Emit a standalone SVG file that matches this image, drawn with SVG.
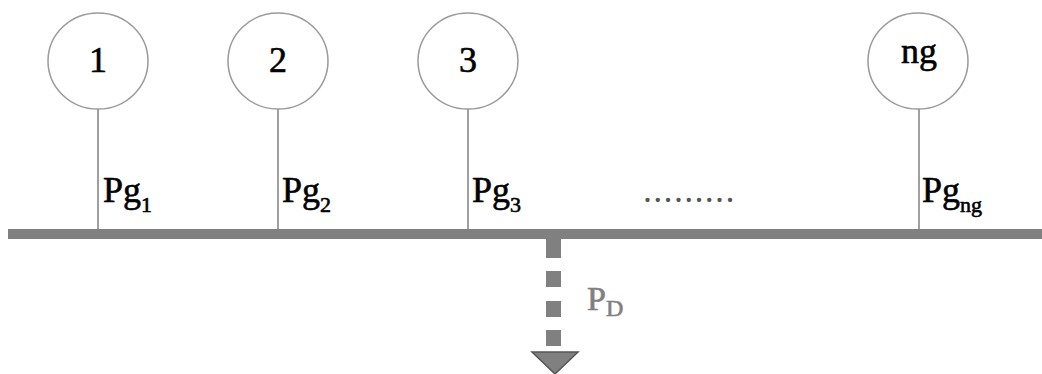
<svg xmlns="http://www.w3.org/2000/svg" width="1042" height="374" viewBox="0 0 1042 374">
<style>
.gen{fill:#fff;stroke:#9a9a9a;stroke-width:1.5}
.lead{stroke:#a0a0a0;stroke-width:2}
.t{font-family:"Liberation Serif","Times New Roman",serif;fill:#000;stroke:#000;stroke-width:0.6}
.num{font-size:36px;text-anchor:middle}
.lab{font-size:36px}
.sub{font-size:22px}
.pd{fill:#808080;stroke:#808080}
</style>
<rect width="1042" height="374" fill="#fff"/>
<g id="connectors">
<line class="lead" x1="98" y1="109" x2="98" y2="229"/>
<line class="lead" x1="278" y1="109" x2="278" y2="229"/>
<line class="lead" x1="468" y1="109" x2="468" y2="229"/>
<line class="lead" x1="919" y1="109" x2="919" y2="229"/>
<path d="M553.5 238V258M553.5 271V287M553.5 301V317M553.5 330V346" stroke="#808080" stroke-width="15" fill="none"/>
<path d="M532 352H578L555 374Z" fill="#808080" stroke="#555" stroke-width="1.5"/>
</g>
<g id="bus">
<rect x="8" y="229" width="1034" height="10" fill="#808080"/>
</g>
<g id="gen1">
<ellipse class="gen" cx="98" cy="61" rx="50" ry="48"/>
<text class="t num" x="98" y="72">1</text>
<text class="t lab" x="103" y="202">Pg<tspan class="sub" dy="10">1</tspan></text>
</g>
<g id="gen2">
<ellipse class="gen" cx="278" cy="61" rx="50" ry="48"/>
<text class="t num" x="278" y="72">2</text>
<text class="t lab" x="282" y="202">Pg<tspan class="sub" dy="10">2</tspan></text>
</g>
<g id="gen3">
<ellipse class="gen" cx="468" cy="61" rx="50" ry="48"/>
<text class="t num" x="468" y="72">3</text>
<text class="t lab" x="472" y="202">Pg<tspan class="sub" dy="10">3</tspan></text>
</g>
<g id="genng">
<ellipse class="gen" cx="918" cy="61" rx="50" ry="48"/>
<text class="t num" x="919" y="63">ng</text>
<text class="t lab" x="922" y="202">Pg<tspan class="sub" dy="10">ng</tspan></text>
</g>
<g id="dots">
<text x="643" y="202" font-family="Liberation Serif, serif" font-size="36" fill="#555" letter-spacing="1.3">.........</text>
</g>
<g id="load">
<text class="t pd" x="587" y="310" font-size="34">P<tspan font-size="24" dy="6">D</tspan></text>
</g>
</svg>
